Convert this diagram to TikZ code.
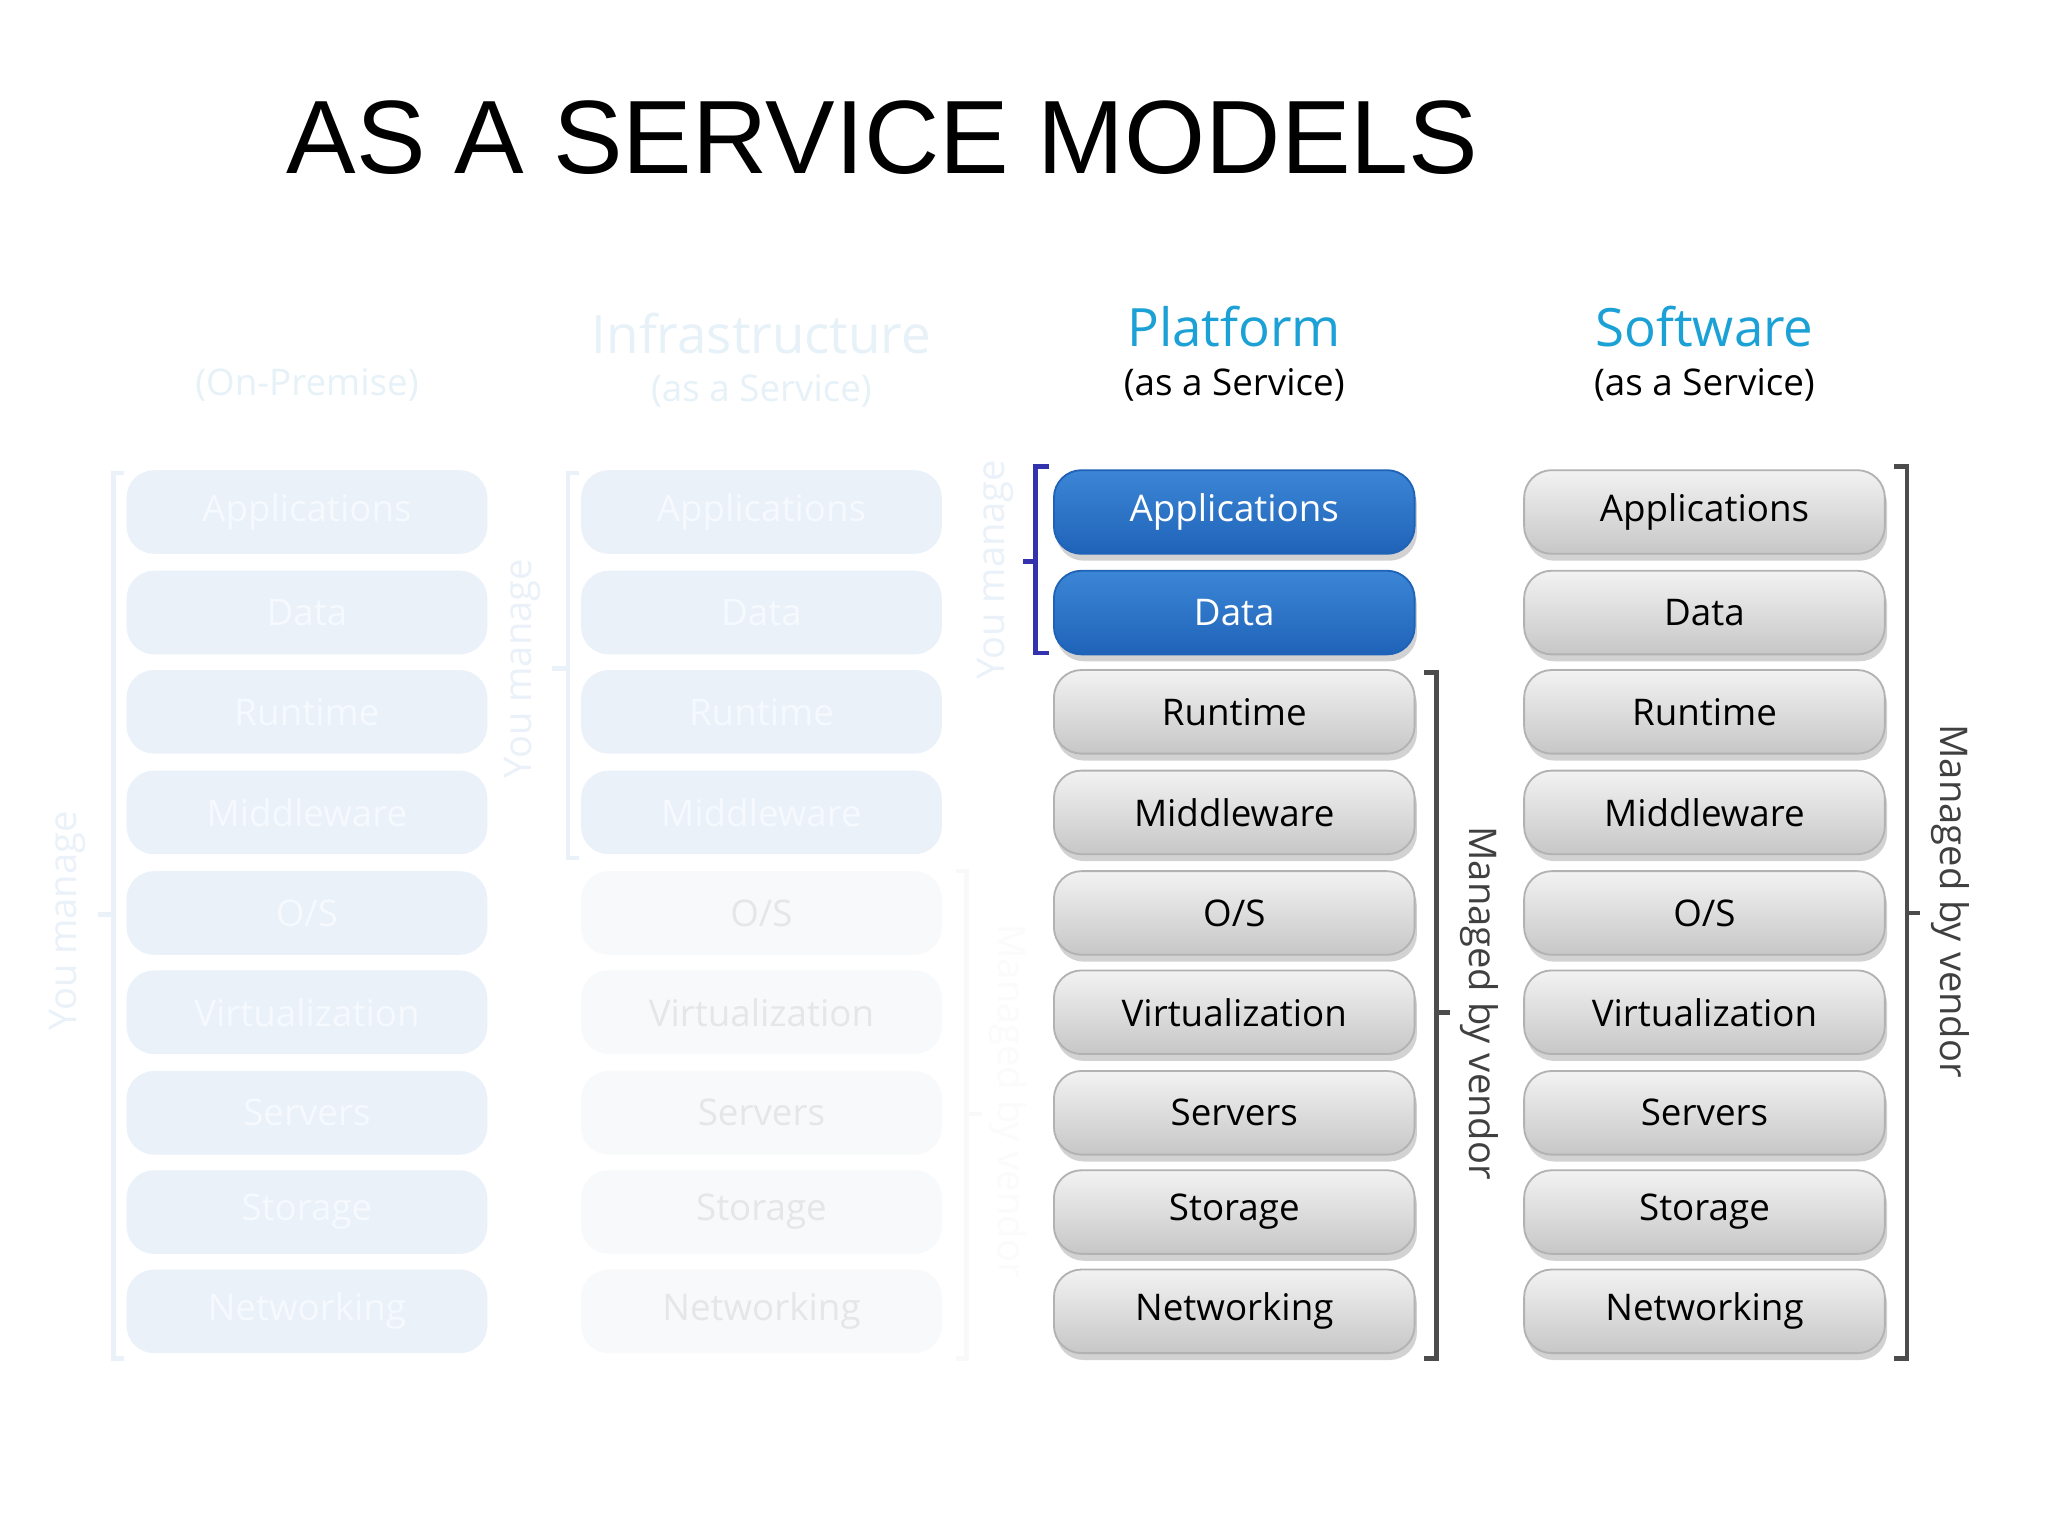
\documentclass[tikz,border=0pt]{standalone}
\usepackage{fontspec}
\setmainfont{Open Sans}
\newfontfamily\titlefont{Liberation Sans}
\usetikzlibrary{shadows}
\definecolor{cy}{HTML}{1BA1D6}
\definecolor{fadebox}{HTML}{EAF1F9}
\definecolor{fadetxt}{HTML}{F6F9FD}
\definecolor{fadehead}{HTML}{E6F1F8}
\definecolor{faintbox}{HTML}{F8F9FA}
\definecolor{fainttxt}{HTML}{E6E6E6}
\definecolor{bluetop}{HTML}{3C86D6}
\definecolor{bluebot}{HTML}{1F63B8}
\tikzset{
 x=0.01cm,y=-0.01cm,
 layer/.style={rounded corners=6pt,minimum width=2.76cm,minimum height=0.64cm,inner sep=0pt,font=\fontsize{8}{10}\selectfont},
 graybox/.style={layer,top color=white!95!black,bottom color=black!22,draw=black!30,drop shadow={opacity=0.35,shadow xshift=0.5pt,shadow yshift=-1.5pt},text=black},
 bluebox/.style={layer,top color=bluetop,bottom color=bluebot,draw=bluebot,drop shadow={opacity=0.35,shadow xshift=0.5pt,shadow yshift=-1.5pt},text=white},
 fadebx/.style={layer,fill=fadebox,text=fadetxt},
 faintbx/.style={layer,fill=faintbox,text=fainttxt},
 brk/.style={line width=1pt},
 head/.style={font=\fontsize{11.5}{13}\selectfont},
 sub/.style={font=\fontsize{8}{10}\selectfont},
 side/.style={font=\fontsize{8.3}{10}\selectfont},
}
\begin{document}
\begin{tikzpicture}
\useasboundingbox[fill=white] (0,0) rectangle (1568,1176);
\node[anchor=west,font=\titlefont\fontsize{22.7}{26}\selectfont] (title) at (207,105) {AS A SERVICE MODELS};
% headings
\node[sub,text=fadehead] (h1s) at (235,295) {(On-Premise)};
\node[head,text=fadehead] (h2) at (583,255) {Infrastructure};
\node[sub,text=fadehead] (h2s) at (583,299) {(as a Service)};
\node[head,text=cy] (h3) at (945,250) {Platform};
\node[sub] (h3s) at (945,295) {(as a Service)};
\node[head,text=cy] (h4) at (1305,250) {Software};
\node[sub] (h4s) at (1305,295) {(as a Service)};
% rows
\foreach \t/\y/\i in {Applications/392/1,Data/469/2,Runtime/545/3,Middleware/622/4,O\slash S/699/5,Virtualization/775/6,Servers/852/7,Storage/928/8,Networking/1004/9}{
  \node[fadebx] (a\i) at (235,\y) {\t};
  \ifnum\i<5 \node[fadebx] (b\i) at (583,\y) {\t};\else \node[faintbx] (b\i) at (583,\y) {\t};\fi
  \ifnum\i<3 \node[bluebox] (c\i) at (945,\y) {\t};\else \node[graybox] (c\i) at (945,\y) {\t};\fi
  \node[graybox] (d\i) at (1305,\y) {\t};
}
% brackets
\draw[brk,fadebox] (95,362) -- (87,362) -- (87,1040) -- (95,1040) (87,700) -- (75,700);
\node[side,text=fadebox,rotate=90] (l1) at (52,705) {You manage};
\draw[brk,fadebox] (443,362) -- (435,362) -- (435,657) -- (443,657) (435,512) -- (423,512);
\node[side,text=fadebox,rotate=90] (l2) at (400,512) {You manage};
\draw[brk,faintbox!80!black!10] (732,667) -- (740,667) -- (740,1040) -- (732,1040) (740,853) -- (752,853);
\node[side,text=faintbox!85!black!10,rotate=-90] (l3) at (772,843) {Managed by vendor};
\draw[brk,blue!60!black!80] (803,357) -- (793,357) -- (793,500) -- (803,500) (793,430) -- (783,430);
\node[side,text=fadebox,rotate=90] (l4) at (762,436) {You manage};
\draw[brk,black!70] (1090,515) -- (1100,515) -- (1100,1040) -- (1090,1040) (1100,775) -- (1110,775);
\node[side,text=black!75,rotate=-90] (l5) at (1133,768) {Managed by vendor};
\draw[brk,black!70] (1450,357) -- (1460,357) -- (1460,1040) -- (1450,1040) (1460,699) -- (1470,699);
\node[side,text=black!75,rotate=-90] (l6) at (1493,690) {Managed by vendor};
\end{tikzpicture}
\end{document}
